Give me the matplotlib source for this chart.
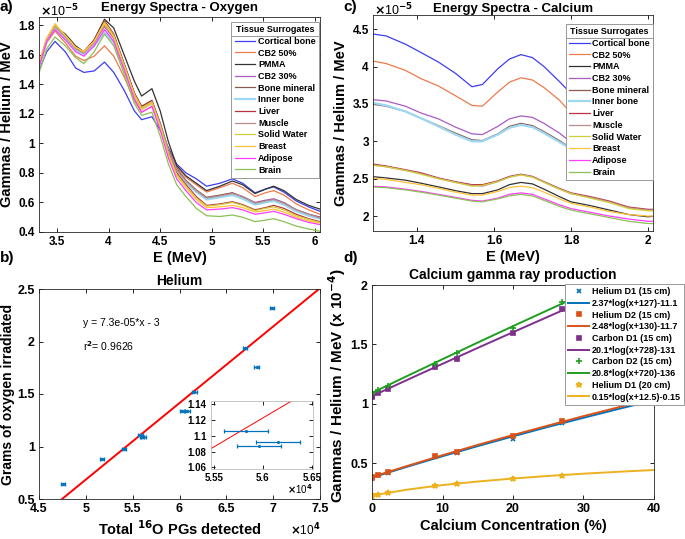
import matplotlib
matplotlib.use("Agg")
import matplotlib.pyplot as plt
from matplotlib.ticker import FormatStrFormatter, FuncFormatter
from matplotlib.lines import Line2D

plt.rcParams['font.family'] = ['Liberation Sans', 'DejaVu Sans']
plt.rcParams['font.weight'] = 'bold'
plt.rcParams['axes.labelweight'] = 'bold'
plt.rcParams['axes.titleweight'] = 'bold'
plt.rcParams['axes.linewidth'] = 0.6
plt.rcParams['axes.edgecolor'] = '#262626'

tissues = ['Cortical bone', 'CB2 50%', 'PMMA', 'CB2 30%', 'Bone mineral', 'Inner bone',
           'Liver', 'Muscle', 'Solid Water', 'Breast', 'Adipose', 'Brain']
tissue_colors = ['#3D3DF5', '#EE7A4A', '#333333', '#A95BC2', '#8C5A52', '#9DD8F2',
                 '#B8323F', '#B88C8C', '#CFCF3A', '#FFC23A', '#FF3CFF', '#8CC055']

# ---- a) oxygen spectra (x1e-5)
ox_energy = [3.3, 3.4, 3.48, 3.58, 3.68, 3.76, 3.86, 3.96, 4.05, 4.15, 4.25, 4.32, 4.42, 4.5, 4.58,
             4.66, 4.75, 4.85, 4.95, 5.08, 5.2, 5.3, 5.42, 5.52, 5.6, 5.7, 5.82, 5.94, 6.05]
ox_cortical = [1.45, 1.62, 1.69, 1.62, 1.51, 1.48, 1.49, 1.55, 1.48, 1.36, 1.22, 1.16, 1.18, 1.09, 0.97,
               0.86, 0.80, 0.76, 0.71, 0.73, 0.76, 0.73, 0.665, 0.69, 0.705, 0.67, 0.61, 0.57, 0.54]
ox_cb2_50 = [1.46, 1.68, 1.76, 1.68, 1.59, 1.56, 1.59, 1.66, 1.59, 1.45, 1.29, 1.21, 1.25, 1.12, 0.96,
             0.84, 0.77, 0.72, 0.67, 0.70, 0.73, 0.70, 0.64, 0.665, 0.68, 0.65, 0.59, 0.55, 0.52]
ox_pmma = [1.47, 1.70, 1.79, 1.74, 1.66, 1.62, 1.70, 1.84, 1.78, 1.60, 1.42, 1.32, 1.37, 1.22, 1.01,
           0.85, 0.78, 0.73, 0.68, 0.71, 0.745, 0.72, 0.66, 0.69, 0.71, 0.68, 0.62, 0.58, 0.555]
ox_cb2_30 = [1.47, 1.70, 1.79, 1.72, 1.64, 1.61, 1.68, 1.79, 1.71, 1.52, 1.33, 1.24, 1.28, 1.13, 0.95,
             0.82, 0.74, 0.68, 0.63, 0.645, 0.665, 0.64, 0.60, 0.615, 0.625, 0.60, 0.55, 0.52, 0.50]
ox_bone_min = [1.47, 1.70, 1.79, 1.72, 1.64, 1.61, 1.69, 1.82, 1.73, 1.54, 1.34, 1.25, 1.29, 1.14, 0.96,
               0.83, 0.75, 0.685, 0.635, 0.65, 0.665, 0.635, 0.595, 0.61, 0.62, 0.595, 0.55, 0.52, 0.50]
ox_inner_bone = [1.46, 1.69, 1.78, 1.71, 1.63, 1.60, 1.66, 1.75, 1.68, 1.50, 1.32, 1.23, 1.27, 1.12, 0.94,
                 0.81, 0.73, 0.67, 0.62, 0.635, 0.65, 0.625, 0.585, 0.60, 0.61, 0.585, 0.54, 0.51, 0.49]
ox_liver = [1.48, 1.71, 1.80, 1.73, 1.65, 1.62, 1.70, 1.83, 1.74, 1.54, 1.34, 1.25, 1.29, 1.13, 0.94,
            0.80, 0.72, 0.64, 0.58, 0.59, 0.605, 0.585, 0.55, 0.565, 0.58, 0.56, 0.52, 0.49, 0.47]
ox_muscle = [1.47, 1.70, 1.79, 1.72, 1.64, 1.61, 1.68, 1.80, 1.72, 1.53, 1.33, 1.24, 1.28, 1.13, 0.95,
             0.82, 0.745, 0.68, 0.63, 0.645, 0.66, 0.64, 0.595, 0.61, 0.62, 0.595, 0.55, 0.52, 0.495]
ox_solid_water = [1.48, 1.71, 1.80, 1.73, 1.65, 1.62, 1.69, 1.82, 1.73, 1.53, 1.33, 1.24, 1.28, 1.12, 0.93,
                  0.79, 0.71, 0.63, 0.575, 0.585, 0.60, 0.58, 0.545, 0.56, 0.57, 0.55, 0.51, 0.485, 0.465]
ox_breast = [1.48, 1.71, 1.81, 1.73, 1.65, 1.62, 1.69, 1.81, 1.72, 1.52, 1.32, 1.23, 1.27, 1.11, 0.92,
             0.78, 0.70, 0.62, 0.565, 0.57, 0.58, 0.565, 0.535, 0.545, 0.555, 0.535, 0.50, 0.475, 0.46]
ox_adipose = [1.46, 1.69, 1.77, 1.70, 1.62, 1.59, 1.66, 1.77, 1.69, 1.50, 1.30, 1.21, 1.25, 1.09, 0.90,
              0.76, 0.68, 0.60, 0.55, 0.555, 0.565, 0.55, 0.52, 0.53, 0.54, 0.52, 0.49, 0.465, 0.45]
ox_brain = [1.42, 1.64, 1.72, 1.66, 1.58, 1.54, 1.62, 1.74, 1.66, 1.47, 1.27, 1.19, 1.21, 1.05, 0.86,
            0.72, 0.64, 0.56, 0.51, 0.505, 0.515, 0.50, 0.47, 0.48, 0.49, 0.47, 0.44, 0.42, 0.405]

# ---- c) calcium spectra (x1e-5)
ca_energy = [1.28, 1.32, 1.37, 1.41, 1.456, 1.5, 1.543, 1.57, 1.61, 1.64, 1.67, 1.7, 1.73, 1.77,
             1.8, 1.85, 1.9, 1.95, 2.0, 2.02]
ca_cortical = [4.44, 4.41, 4.30, 4.19, 4.06, 3.91, 3.73, 3.76, 3.97, 4.10, 4.16, 4.12, 4.00, 3.80,
               3.64, 3.45, 3.30, 3.15, 3.05, 3.02]
ca_cb2_50 = [4.08, 4.04, 3.95, 3.84, 3.74, 3.61, 3.48, 3.47, 3.66, 3.79, 3.85, 3.82, 3.72, 3.55,
             3.38, 3.20, 3.05, 2.93, 2.85, 2.83]
ca_pmma = [2.53, 2.51, 2.48, 2.44, 2.39, 2.34, 2.30, 2.30, 2.35, 2.42, 2.45, 2.43, 2.36, 2.26,
           2.19, 2.14, 2.08, 2.02, 1.99, 2.00]
ca_cb2_30 = [3.56, 3.54, 3.47, 3.38, 3.30, 3.19, 3.10, 3.09, 3.20, 3.30, 3.34, 3.32, 3.24, 3.11,
             2.99, 2.85, 2.74, 2.66, 2.60, 2.58]
ca_bone_min = [3.50, 3.47, 3.40, 3.31, 3.21, 3.11, 3.02, 3.01, 3.10, 3.20, 3.24, 3.21, 3.13, 3.01,
               2.91, 2.78, 2.67, 2.59, 2.53, 2.52]
ca_inner_bone = [3.52, 3.48, 3.40, 3.31, 3.20, 3.09, 3.00, 3.00, 3.09, 3.18, 3.22, 3.19, 3.11, 2.99,
                 2.90, 2.77, 2.66, 2.58, 2.52, 2.51]
ca_liver = [2.70, 2.67, 2.62, 2.58, 2.51, 2.46, 2.42, 2.42, 2.47, 2.53, 2.56, 2.53, 2.46, 2.37,
            2.31, 2.26, 2.20, 2.12, 2.09, 2.09]
ca_muscle = [2.69, 2.66, 2.61, 2.57, 2.50, 2.45, 2.41, 2.40, 2.46, 2.52, 2.555, 2.525, 2.455, 2.36,
             2.30, 2.25, 2.19, 2.11, 2.08, 2.08]
ca_solid_water = [2.68, 2.66, 2.61, 2.56, 2.50, 2.45, 2.40, 2.41, 2.46, 2.52, 2.55, 2.52, 2.45, 2.36,
                  2.30, 2.24, 2.18, 2.10, 2.07, 2.07]
ca_breast = [2.51, 2.49, 2.45, 2.42, 2.37, 2.32, 2.28, 2.28, 2.33, 2.38, 2.40, 2.38, 2.32, 2.23,
             2.17, 2.12, 2.06, 2.02, 2.00, 2.00]
ca_adipose = [2.40, 2.39, 2.36, 2.33, 2.29, 2.25, 2.21, 2.20, 2.24, 2.29, 2.31, 2.29, 2.23, 2.15,
              2.10, 2.05, 2.00, 1.96, 1.93, 1.93]
ca_brain = [2.39, 2.38, 2.35, 2.32, 2.28, 2.24, 2.20, 2.19, 2.23, 2.27, 2.29, 2.27, 2.21, 2.13,
            2.08, 2.03, 1.98, 1.93, 1.90, 1.90]

# ---- b) helium: oxygen mass vs PG counts
pg_counts = [47550, 51740, 54080, 55830, 56150, 55960, 60250, 60850, 61600, 66990, 68230, 69890]
pg_err = [225, 225, 225, 225, 225, 225, 225, 225, 225, 225, 225, 225]
oxygen_grams = [0.642, 0.879, 0.977, 1.106, 1.092, 1.087, 1.334, 1.334, 1.517, 1.941, 1.758, 2.317]
fit_slope = 7.29e-5
fit_intercept = -2.96

# ---- d) calcium gamma ray production (x1e-4)
ca_conc = [0, 0, 0.9, 2.3, 8.9, 12, 20, 26.9]
he_d1_15 = [0.375, 0.382, 0.399, 0.421, 0.551, 0.587, 0.708, 0.840]
he_d2_15 = [0.378, 0.385, 0.404, 0.427, 0.559, 0.596, 0.730, 0.857]
c_d1_15 = [1.060, 1.067, 1.092, 1.124, 1.312, 1.377, 1.600, 1.800]
c_d2_15 = [1.080, 1.101, 1.115, 1.149, 1.334, 1.427, 1.635, 1.860]
he_d1_20 = [0.221, 0.232, 0.236, 0.247, 0.306, 0.323, 0.368, 0.393]
fit_conc = [0, 5, 10, 15, 20, 25, 30, 35, 40]
he_d1_15_fit = [0.380, 0.472, 0.560, 0.645, 0.727, 0.807, 0.883, 0.958, 1.030]
he_d2_15_fit = [0.385, 0.478, 0.568, 0.655, 0.738, 0.818, 0.897, 0.972, 1.046]
c_d1_15_fit = [1.065, 1.202, 1.337, 1.471, 1.603, 1.734, 1.864, 1.993, 2.120]
c_d2_15_fit = [1.092, 1.235, 1.376, 1.516, 1.654, 1.790, 1.925, 2.060, 2.190]
he_d1_20_fit = [0.229, 0.279, 0.317, 0.347, 0.372, 0.394, 0.413, 0.429, 0.444]
fit_labels = ['2.37*log(x+127)-11.1', '2.48*log(x+130)-11.7', '20.1*log(x+728)-131',
              '20.8*log(x+720)-136', '0.15*log(x+12.5)-0.15']

ox_series = [ox_cortical, ox_cb2_50, ox_pmma, ox_cb2_30, ox_bone_min, ox_inner_bone,
             ox_liver, ox_muscle, ox_solid_water, ox_breast, ox_adipose, ox_brain]
ca_series = [ca_cortical, ca_cb2_50, ca_pmma, ca_cb2_30, ca_bone_min, ca_inner_bone,
             ca_liver, ca_muscle, ca_solid_water, ca_breast, ca_adipose, ca_brain]

fig = plt.figure(figsize=(6.85, 5.39), dpi=100)
W, H = 685, 539


def px_axes(left, top, right, bottom):
    return fig.add_axes([left / W, 1 - bottom / H, (right - left) / W, (bottom - top) / H])


def style(ax, size=8.5):
    ax.tick_params(direction='in', length=3, width=0.6, top=True, right=True,
                   labelsize=size, pad=3)
    for lab in ax.get_xticklabels() + ax.get_yticklabels():
        lab.set_fontweight('bold')


def spectra_legend(ax, anchor):
    leg = ax.legend(loc='upper right', bbox_to_anchor=anchor, borderaxespad=0,
                    fontsize=6.5, title='Tissue Surrogates', title_fontsize=6.5,
                    fancybox=False, framealpha=1, edgecolor='#999999',
                    handlelength=2.3, handletextpad=0.3, labelspacing=0.3,
                    borderpad=0.35)
    leg.get_title().set_fontweight('bold')
    leg.get_frame().set_linewidth(0.7)
    for t in leg.get_texts():
        t.set_fontweight('bold')
    return leg


# a) oxygen
ax_a = px_axes(39, 17, 320, 232)
for vals, name, col in zip(ox_series, tissues, tissue_colors):
    ax_a.plot(ox_energy, vals, color=col, lw=1.6 if name == 'Inner bone' else 0.9, label=name)
ax_a.set_xlim(3.325, 6.05)
ax_a.set_ylim(0.4, 1.855)
ax_a.set_xticks([3.5, 4, 4.5, 5, 5.5, 6])
ax_a.set_yticks([0.4, 0.6, 0.8, 1, 1.2, 1.4, 1.6, 1.8])
ax_a.xaxis.set_major_formatter(FormatStrFormatter('%g'))
ax_a.yaxis.set_major_formatter(FormatStrFormatter('%g'))
style(ax_a)
ax_a.set_title('Energy Spectra - Oxygen', fontsize=9.5, pad=4)
ax_a.set_xlabel('E (MeV)', fontsize=10.5, labelpad=2)
ax_a.set_ylabel('Gammas / Helium / MeV', fontsize=10.5)
ax_a.yaxis.set_label_coords(-0.089, 0.5)
leg_a = spectra_legend(ax_a, (0.996, 0.977))

# c) calcium
ax_c = px_axes(373, 15, 653, 231)
for vals, name, col in zip(ca_series, tissues, tissue_colors):
    ax_c.plot(ca_energy, vals, color=col, lw=1.6 if name == 'Inner bone' else 0.9, label=name)
ax_c.set_xlim(1.286, 2.013)
ax_c.set_ylim(1.8, 4.69)
ax_c.set_xticks([1.4, 1.6, 1.8, 2])
ax_c.set_yticks([2, 2.5, 3, 3.5, 4, 4.5])
ax_c.xaxis.set_major_formatter(FormatStrFormatter('%g'))
ax_c.yaxis.set_major_formatter(FormatStrFormatter('%g'))
style(ax_c)
ax_c.set_title('Energy Spectra - Calcium', fontsize=9.5, pad=2.5)
ax_c.set_xlabel('E (MeV)', fontsize=10.5, labelpad=2)
ax_c.set_ylabel('Gammas / Helium / MeV', fontsize=10.5)
ax_c.yaxis.set_label_coords(-0.089, 0.5)
leg_c = spectra_legend(ax_c, (1.0, 0.958))

# b) helium oxygen mass
ax_b = px_axes(39, 289, 320, 499)
ax_b.plot([45000, 75000], [fit_slope * 45000 + fit_intercept, fit_slope * 75000 + fit_intercept],
          color='#FF0000', lw=1.4)
ax_b.errorbar(pg_counts, oxygen_grams, xerr=pg_err, fmt='.', color='#0072BD', ms=3,
              elinewidth=1, capsize=1.5, capthick=1)
ax_b.set_xlim(45000, 75000)
ax_b.set_ylim(0.5, 2.5)
ax_b.set_xticks([45000, 50000, 55000, 60000, 65000, 70000, 75000])
ax_b.set_yticks([0.5, 1, 1.5, 2, 2.5])
ax_b.xaxis.set_major_formatter(FuncFormatter(lambda v, p: '%g' % (v / 1e4)))
ax_b.yaxis.set_major_formatter(FormatStrFormatter('%g'))
style(ax_b, 9)
ax_b.set_title('Helium', fontsize=10, pad=3)
ax_b.set_xlabel('Total $\\mathbf{^{16}}$O PGs detected', fontsize=10.5, labelpad=3)
ax_b.set_ylabel('Grams of oxygen irradiated', fontsize=10)
ax_b.yaxis.set_label_coords(-0.085, 0.5)
ax_b.text(0.155, 0.84, 'y = 7.3e-05*x - 3', transform=ax_b.transAxes, fontsize=7.5,
          fontweight='normal', va='center')
ax_b.text(0.155, 0.73, 'r$^2$= 0.9626', transform=ax_b.transAxes, fontsize=7.5,
          fontweight='normal', va='center')
fig.text(320 / W, 1 - 530 / H, '$\\times$10$^4$', ha='right', va='center', fontsize=8.5,
         fontweight='normal')

# inset
ax_in = px_axes(210.7, 401.3, 313, 469)
ax_in.plot([55000, 57000], [fit_slope * 55000 + fit_intercept, fit_slope * 57000 + fit_intercept],
           color='#FF0000', lw=0.7)
ax_in.errorbar(pg_counts, oxygen_grams, xerr=pg_err, fmt='.', color='#0072BD', ms=2.5,
               elinewidth=0.9, capsize=1.2, capthick=0.9)
ax_in.set_xlim(55466, 56513)
ax_in.set_ylim(1.058, 1.1434)
ax_in.set_xticks([55500, 56000, 56500])
ax_in.set_yticks([1.06, 1.08, 1.1, 1.12, 1.14])
ax_in.xaxis.set_major_formatter(FuncFormatter(lambda v, p: '%g' % (v / 1e4)))
ax_in.yaxis.set_major_formatter(FormatStrFormatter('%g'))
style(ax_in, 7)
for s in ax_in.spines.values():
    s.set_color('#bbbbbb')
fig.text(313 / W, 1 - 489 / H, '$\\times$10$^4$', ha='right', va='center', fontsize=7,
         fontweight='normal')

# d) calcium production
ax_d = px_axes(372, 285, 654, 499)
pts = [(he_d1_15, '#0072BD', 'x', 3.5, 'Helium D1 (15 cm)'),
       (he_d2_15, '#D95319', 's', 3, 'Helium D2 (15 cm)'),
       (c_d1_15, '#7E2F8E', 's', 2.5, 'Carbon D1 (15 cm)'),
       (c_d2_15, '#1F9E1F', '+', 5, 'Carbon D2 (15 cm)'),
       (he_d1_20, '#EDB120', '*', 4, 'Helium D1 (20 cm)')]
fits = [he_d1_15_fit, he_d2_15_fit, c_d1_15_fit, c_d2_15_fit, he_d1_20_fit]
for (vals, col, mk, ms, lab), fvals, flab in zip(pts, fits, fit_labels):
    ax_d.plot(ca_conc, vals, linestyle='none', marker=mk, color=col, ms=ms, mew=1.2, label=lab)
    ax_d.plot(fit_conc, fvals, color=col, lw=1.4, label=flab)
ax_d.set_xlim(0, 40)
ax_d.set_ylim(0.2, 2.0)
ax_d.set_xticks([0, 10, 20, 30, 40])
ax_d.set_yticks([0.5, 1, 1.5, 2])
ax_d.yaxis.set_major_formatter(FormatStrFormatter('%g'))
style(ax_d, 9)
ax_d.set_title('Calcium gamma ray production', fontsize=10, pad=4)
ax_d.set_xlabel('Calcium Concentration (%)', fontsize=10.5, labelpad=3)
ax_d.set_ylabel('Gammas / Helium / MeV (x 10$^{-4}$)', fontsize=11)
ax_d.yaxis.set_label_coords(-0.085, 0.53)
leg_d = ax_d.legend(loc='upper right', bbox_to_anchor=(684 / W, 1 - 284 / H),
                    bbox_transform=fig.transFigure, borderaxespad=0, fontsize=6.5,
                    fancybox=False, framealpha=1, edgecolor='#999999', handlelength=2.3,
                    handletextpad=0.3, labelspacing=0.3, borderpad=0.35)
leg_d.get_frame().set_linewidth(0.7)
for t in leg_d.get_texts():
    t.set_fontweight('bold')

# exponent labels and panel letters
fig.text(40 / W, 1 - 11 / H, '$\\times$10$^{-5}$', ha='left', va='center', fontsize=9,
         fontweight='normal')
fig.text(374 / W, 1 - 10 / H, '$\\times$10$^{-5}$', ha='left', va='center', fontsize=9,
         fontweight='normal')
for lbl, x, y in [('a)', 0, 7), ('b)', 0, 258), ('c)', 343, 7), ('d)', 343, 258)]:
    fig.text(x / W, 1 - y / H, lbl, ha='left', va='center', fontsize=11, fontweight='bold')

# separator line under the legend titles
fig.canvas.draw()
for leg in (leg_a, leg_c):
    fb = leg.get_window_extent()
    tb = leg.get_title().get_window_extent()
    y = (tb.y0 - 2) / H
    fig.add_artist(Line2D([fb.x0 / W, fb.x1 / W], [y, y], transform=fig.transFigure,
                          color='#999999', lw=0.7))

fig.savefig('out.png', dpi=100)
